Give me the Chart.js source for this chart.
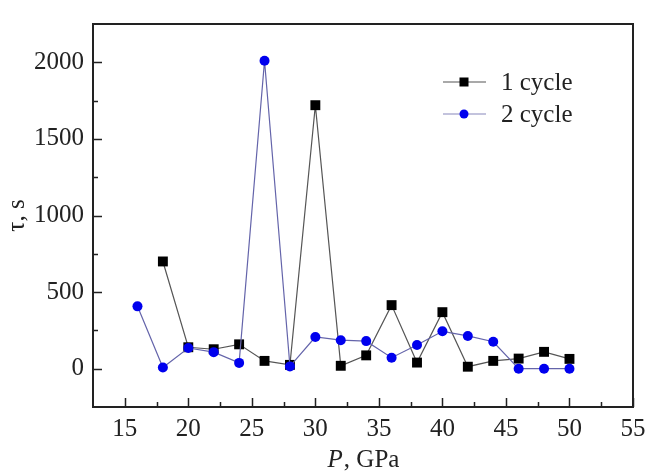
<!DOCTYPE html>
<html>
<head>
<meta charset="utf-8">
<script src="https://cdn.jsdelivr.net/npm/chart.js@4/dist/chart.umd.min.js"></script>
<style>
  html, body { margin: 0; padding: 0; background: #fff; }
  #wrap { width: 653px; height: 472px; }
</style>
</head>
<body>
<div id="wrap"><canvas id="c" width="653" height="472"></canvas></div>
<script>
// ---- data ----
const pressure1 = [18, 20, 22, 24, 26, 28, 30, 32, 34, 36, 38, 40, 42, 44, 46, 48, 50];
const tau1 = [700, 140, 127, 159, 51, 25, 1720, 19, 87, 415, 40, 369, 13, 51, 66, 110, 64];
const pressure2 = [16, 18, 20, 22, 24, 26, 28, 30, 32, 34, 36, 38, 40, 42, 44, 46, 48, 50];
const tau2 = [407, 8, 135, 108, 38, 2010, 15, 207, 186, 180, 72, 155, 244, 214, 176, 0, 0, 0];
const seriesNames = ['1 cycle', '2 cycle'];
const xTicks = [15, 20, 25, 30, 35, 40, 45, 50, 55];
const xMinorTicks = [17.5, 22.5, 27.5, 32.5, 37.5, 42.5, 47.5, 52.5];
const yTicks = [0, 500, 1000, 1500, 2000];
const yMinorTicks = [250, 750, 1250, 1750];
const xTitleItalic = 'P';
const xTitleRest = ', GPa';
const yTitle = 'τ, s';

const FONT = "'Liberation Serif', 'Times New Roman', serif";
const INK = '#222';

const framePlugin = {
  id: 'frame',
  afterDraw(chart) {
    const ctx = chart.ctx;
    const a = chart.chartArea;
    const xs = chart.scales.x, ys = chart.scales.y;
    ctx.save();
    ctx.strokeStyle = INK;
    ctx.lineWidth = 2;
    ctx.strokeRect(a.left, a.top, a.right - a.left, a.bottom - a.top);
    ctx.lineWidth = 1.5;
    ctx.beginPath();
    xTicks.forEach(v => { const p = Math.round(xs.getPixelForValue(v)) + 0.5; ctx.moveTo(p, a.bottom); ctx.lineTo(p, a.bottom - 9); });
    xMinorTicks.forEach(v => { const p = Math.round(xs.getPixelForValue(v)) + 0.5; ctx.moveTo(p, a.bottom); ctx.lineTo(p, a.bottom - 5); });
    yTicks.forEach(v => { const p = Math.round(ys.getPixelForValue(v)) + 0.5; ctx.moveTo(a.left, p); ctx.lineTo(a.left + 9, p); });
    yMinorTicks.forEach(v => { const p = Math.round(ys.getPixelForValue(v)) + 0.5; ctx.moveTo(a.left, p); ctx.lineTo(a.left + 5, p); });
    ctx.stroke();

    // x axis title with italic P
    ctx.fillStyle = INK;
    ctx.textBaseline = 'alphabetic';
    ctx.font = 'italic 25px ' + FONT;
    const w1 = ctx.measureText(xTitleItalic).width;
    ctx.font = '25px ' + FONT;
    const w2 = ctx.measureText(xTitleRest).width;
    const cx = (a.left + a.right) / 2;
    let sx = cx - (w1 + w2) / 2;
    ctx.font = 'italic 25px ' + FONT;
    ctx.fillText(xTitleItalic, sx, 467);
    ctx.font = '25px ' + FONT;
    ctx.fillText(xTitleRest, sx + w1 + 1, 467);

    // legend
    const items = [
      { y: 82, line: '#555', draw: (x, y) => { ctx.fillStyle = '#000'; ctx.fillRect(x - 4.5, y - 4.5, 9, 9); } },
      { y: 114, line: '#8888bb', draw: (x, y) => { ctx.fillStyle = '#0000ee'; ctx.beginPath(); ctx.arc(x, y, 4.5, 0, Math.PI * 2); ctx.fill(); } }
    ];
    items.forEach((it, i) => {
      ctx.strokeStyle = it.line;
      ctx.lineWidth = 1.2;
      ctx.beginPath(); ctx.moveTo(443, it.y); ctx.lineTo(486, it.y); ctx.stroke();
      it.draw(464, it.y);
      ctx.fillStyle = INK;
      ctx.font = '25px ' + FONT;
      ctx.textBaseline = 'middle';
      ctx.fillText(seriesNames[i], 501, it.y + 1);
    });
    ctx.restore();
  }
};

new Chart(document.getElementById('c'), {
  type: 'line',
  data: {
    datasets: [
      {
        label: seriesNames[0],
        data: pressure1.map((p, i) => ({ x: p, y: tau1[i] })),
        borderColor: '#555',
        borderWidth: 1.2,
        pointStyle: 'rect',
        pointRadius: 7,
        pointBackgroundColor: '#000',
        pointBorderWidth: 0,
        order: 1
      },
      {
        label: seriesNames[1],
        data: pressure2.map((p, i) => ({ x: p, y: tau2[i] })),
        borderColor: '#6464aa',
        borderWidth: 1.2,
        pointStyle: 'circle',
        pointRadius: 5,
        pointBackgroundColor: '#0000ee',
        pointBorderWidth: 0,
        order: 0
      }
    ]
  },
  options: {
    responsive: false,
    animation: false,
    events: [],
    layout: { padding: { top: 12, right: 20, left: 0, bottom: 0 } },
    plugins: { legend: { display: false }, tooltip: { enabled: false } },
    scales: {
      x: {
        type: 'linear',
        min: 12.5, max: 55,
        grid: { display: false, drawTicks: false },
        border: { display: false },
        afterBuildTicks: s => { s.ticks = xTicks.map(v => ({ value: v })); },
        afterFit: s => { s.height = 65; s.paddingLeft = 0; s.paddingRight = 0; },
        ticks: { color: INK, font: { family: FONT, size: 25 }, padding: 7, maxRotation: 0, autoSkip: false, callback: v => String(v) }
      },
      y: {
        type: 'linear',
        min: -250, max: 2250,
        grid: { display: false, drawTicks: false },
        border: { display: false },
        afterBuildTicks: s => { s.ticks = yTicks.map(v => ({ value: v })); },
        afterFit: s => { s.width = 93; },
        title: { display: true, text: yTitle, color: INK, font: { family: FONT, size: 25 }, padding: { top: 2, bottom: 0 } },
        ticks: { color: INK, font: { family: FONT, size: 25 }, padding: 9, autoSkip: false, callback: v => String(v) }
      }
    }
  },
  plugins: [framePlugin]
});
</script>
</body>
</html>
